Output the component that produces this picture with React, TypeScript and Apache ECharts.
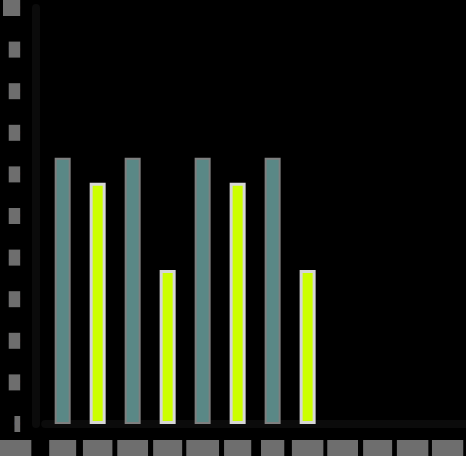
import React, { useEffect, useRef } from "react";
import * as echarts from "echarts";

const categories = ["Jan", "Feb", "Mar", "Apr", "May", "Jun", "Jul", "Aug", "Sep", "Oct", "Nov", "Dec"];
const tealValues = [64, null, 64, null, 64, null, 64, null, null, null, null, null];
const limeValues = [null, 58, null, 37, null, 58, null, 37, null, null, null, null];
const yTicks = { min: 0, max: 100, interval: 10 };

const BLOCK = "#6e6e6e";

export default function App() {
  const ref = useRef<HTMLDivElement>(null);
  useEffect(() => {
    if (!ref.current) return;
    const chart = echarts.init(ref.current, null, { renderer: "svg" });
    chart.setOption({
      animation: false,
      backgroundColor: "#000000",
      grid: { left: 45, right: -5, top: 8, bottom: 32 },
      xAxis: {
        type: "category",
        data: categories,
        offset: 4,
        axisLine: { show: true, lineStyle: { color: "#0b0b0b", width: 8 } },
        axisTick: { show: false },
        axisLabel: {
          margin: 12,
          fontSize: 11,
          fontFamily: "DejaVu Sans",
          color: BLOCK,
          backgroundColor: BLOCK,
          lineHeight: 12,
          padding: [2, 5, 2, 5],
        },
        splitLine: { show: false },
      },
      yAxis: {
        type: "value",
        min: yTicks.min,
        max: yTicks.max,
        interval: yTicks.interval,
        offset: 9,
        axisLine: { show: true, lineStyle: { color: "#0b0b0b", width: 8 } },
        axisTick: { show: false },
        splitLine: { show: false },
        axisLabel: {
          margin: 16,
          fontSize: 9,
          fontFamily: "DejaVu Sans",
          color: BLOCK,
          backgroundColor: BLOCK,
          lineHeight: 10,
          padding: [3, 0, 3, 0],
        },
      },
      graphic: [
        {
          type: "text",
          left: 0,
          top: 440,
          style: {
            text: "Month",
            fontSize: 10,
            fontFamily: "DejaVu Sans",
            fill: BLOCK,
            backgroundColor: BLOCK,
            lineHeight: 12,
            padding: [2, 0, 2, 0],
          },
        },
      ],
      series: [
        {
          type: "bar",
          stack: "one",
          data: tealValues,
          barWidth: 16,
          itemStyle: { color: "#5a8886", borderColor: "#7f7f7f", borderWidth: 2 },
        },
        {
          type: "bar",
          stack: "one",
          data: limeValues,
          barWidth: 16,
          itemStyle: { color: "#ccff00", borderColor: "#d6d6d6", borderWidth: 3 },
        },
      ],
    });
    return () => chart.dispose();
  }, []);
  return (
    <div
      ref={ref}
      style={{ position: "fixed", left: 0, top: 0, width: 466, height: 456 }}
    />
  );
}
